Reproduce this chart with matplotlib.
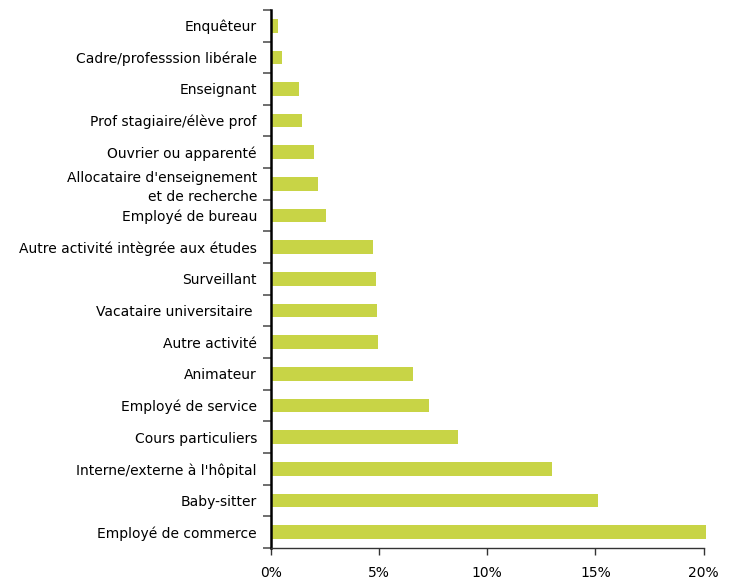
import matplotlib.pyplot as plt
import numpy as np

# categories listed bottom to top
categories = [
    "Employé de commerce",
    "Baby-sitter",
    "Interne/externe à l'hôpital",
    "Cours particuliers",
    "Employé de service",
    "Animateur",
    "Autre activité",
    "Vacataire universitaire ",
    "Surveillant",
    "Autre activité intègrée aux études",
    "Employé de bureau",
    "Allocataire d'enseignement\net de recherche",
    "Ouvrier ou apparenté",
    "Prof stagiaire/élève prof",
    "Enseignant",
    "Cadre/professsion libérale",
    "Enquêteur",
]
shares = [20.1, 15.1, 13.0, 8.65, 7.3, 6.57, 4.96, 4.9, 4.85, 4.74,
          2.54, 2.17, 2.0, 1.43, 1.32, 0.52, 0.31]
xticks = [0, 5, 10, 15, 20]

plt.rcParams['font.family'] = ['DejaVu Sans']

fig = plt.figure(figsize=(7.3, 5.81), dpi=100)
ax = fig.add_axes([0.371, 0.057, 0.593, 0.926])

pos = np.arange(len(categories))
ax.barh(pos, shares, height=0.43, color='#c8d446', clip_on=False)

ax.set_xlim(0, 20)
ax.set_ylim(-0.5, len(categories) - 0.5)

ax.set_xticks(xticks)
ax.set_xticklabels([f"{v}%" for v in xticks], fontsize=10)
ax.tick_params(axis='x', length=5, width=1, color='#333333', pad=8)

# ticks between categories, labels centred on bars
ax.set_yticks(np.arange(-0.5, len(categories), 1.0))
ax.set_yticklabels([])
ax.tick_params(axis='y', which='major', length=6, width=1.2, color='#555555')
ax.set_yticks(pos, minor=True)
ax.set_yticklabels(categories, minor=True, fontsize=10)
ax.tick_params(axis='y', which='minor', length=0, pad=10)

for lbl in ax.get_yticklabels(minor=True):
    lbl.set_horizontalalignment('right')
    lbl.set_multialignment('right')
    lbl.set_linespacing(1.45)

ax.spines['top'].set_visible(False)
ax.spines['right'].set_visible(False)
ax.spines['left'].set_linewidth(1.8)
ax.spines['bottom'].set_linewidth(1.0)
ax.spines['bottom'].set_color('#333333')

fig.savefig("out.png", dpi=100)
plt.close()
